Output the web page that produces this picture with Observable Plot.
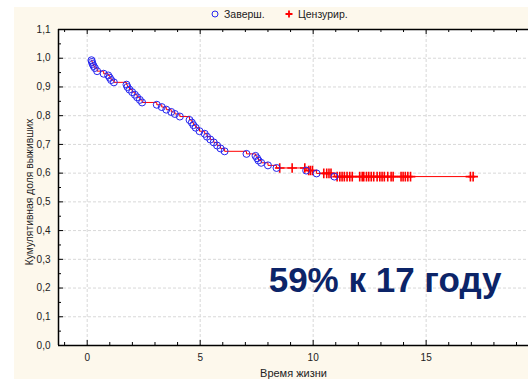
<!DOCTYPE html>
<html><head><meta charset="utf-8">
<script src="https://cdn.jsdelivr.net/npm/d3@7"></script>
<script src="https://cdn.jsdelivr.net/npm/@observablehq/plot@0.6"></script>
<style>
html,body{margin:0;padding:0;background:#fff;}
#wrap{position:absolute;left:14px;top:7px;width:514px;height:372px;background:#fdf8ec;overflow:hidden;font-family:"Liberation Sans",Arial,sans-serif;}
#legend{position:relative;height:15px;font-size:10.5px;color:#222;}
.item{position:absolute;top:0;height:15px;line-height:15px;white-space:nowrap;}
.item svg{vertical-align:middle;margin-right:5px;position:relative;top:-1px;}
#chart svg{display:block;}
#ylabel{position:absolute;left:16px;top:185px;transform:translate(-50%,-50%) rotate(-90deg);white-space:nowrap;font-size:10.3px;color:#222;line-height:12px;}
</style></head>
<body>
<div id="wrap">
  <div id="legend"></div>
  <div id="chart"></div>
  <div id="ylabel"></div>
</div>
<script>
// Kaplan–Meier: completed (events)
const eventTime = [0.19,0.21,0.24,0.28,0.34,0.44,0.73,0.93,1.00,1.06,1.18,1.74,1.78,1.87,1.99,2.11,2.21,2.33,2.43,3.08,3.30,3.50,3.72,3.88,4.10,4.53,4.63,4.70,4.80,4.97,5.20,5.30,5.45,5.60,5.75,5.90,6.08,7.05,7.45,7.52,7.58,7.70,8.00,8.38,9.69,10.15,10.94];
const eventSurv = [0.993,0.987,0.980,0.973,0.966,0.955,0.946,0.940,0.932,0.924,0.916,0.908,0.900,0.891,0.882,0.873,0.864,0.855,0.846,0.838,0.830,0.821,0.813,0.806,0.797,0.785,0.776,0.767,0.758,0.746,0.737,0.727,0.717,0.707,0.696,0.686,0.676,0.667,0.660,0.652,0.644,0.636,0.627,0.618,0.609,0.599,0.588];
// censored
const censorTime = [8.52,9.07,9.63,9.80,9.88,9.97,10.47,10.60,10.70,10.79,11.06,11.18,11.28,11.38,11.50,11.62,11.73,12.06,12.17,12.24,12.36,12.46,12.57,12.68,12.83,12.95,13.05,13.15,13.30,13.45,13.54,13.89,13.98,14.08,14.19,14.31,16.96,17.08];
const censorSurv = [0.618,0.618,0.618,0.609,0.609,0.609,0.599,0.599,0.599,0.599,0.588,0.588,0.588,0.588,0.588,0.588,0.588,0.588,0.588,0.588,0.588,0.588,0.588,0.588,0.588,0.588,0.588,0.588,0.588,0.588,0.588,0.588,0.588,0.588,0.588,0.588,0.588,0.588];

const xDomain = [-1.27, 19.53];
const yDomain = [0, 1.1];
const xTicksMajor = [0,5,10,15];
const xTicksMinor = [-1,1,2,3,4,6,7,8,9,11,12,13,14,16,17,18,19];
const yTicksMajor = [0,0.1,0.2,0.3,0.4,0.5,0.6,0.7,0.8,0.9,1.0,1.1];
const yTicksMinor = [0.05,0.15,0.25,0.35,0.45,0.55,0.65,0.75,0.85,0.95,1.05];
const legendLabels = ["Заверш.", "Цензурир."];
const xLabel = "Время жизни";
const yLabel = "Кумулятивная доля выживших";
const note = "59% к 17 году";

const events = eventTime.map((t,i)=>({t, s:eventSurv[i]}));
const censors = censorTime.map((t,i)=>({t, s:censorSurv[i]}));
const curve = [...events, ...censors].sort((a,b)=>a.t-b.t);

const blue = "#2626f0", red = "#ff0000";

// legend
const lg = document.getElementById("legend");
lg.innerHTML = `
<span class="item" style="left:197px"><svg width="8" height="8"><circle cx="4" cy="4" r="3" fill="none" stroke="${blue}" stroke-width="1"/></svg>${legendLabels[0]}</span>
<span class="item" style="left:271px"><svg width="8" height="8"><path d="M4,0.5V7.5M0.5,4H7.5" stroke="${red}" stroke-width="1.8"/></svg>${legendLabels[1]}</span>`;
document.getElementById("ylabel").textContent = yLabel;

const W = 514, H = 357, mL = 44, mR = 0, mT = 7, mB = 34;
const pw = W - mL - mR, ph = H - mT - mB;
const fmt = d => d.toFixed(1).replace(".", ",");
const ff = "'Liberation Sans', Arial, sans-serif";

const chart = Plot.plot({
  width: W, height: H,
  marginLeft: mL, marginRight: mR, marginTop: mT, marginBottom: mB,
  style: {background: "transparent", fontFamily: ff, fontSize: "10px", color: "#222"},
  x: {domain: xDomain},
  y: {domain: yDomain},
  marks: [
    Plot.frame({fill: "white", stroke: null}),
    Plot.gridX(xTicksMajor, {stroke: "#d8d8d8", strokeOpacity: 1, strokeDasharray: "3,2"}),
    Plot.gridY(yTicksMajor.slice(1, -1), {stroke: "#d8d8d8", strokeOpacity: 1, strokeDasharray: "3,2"}),
    // inward ticks bottom / top
    Plot.tickX(xTicksMajor, {x: d => d, insetTop: ph - 5, stroke: "black"}),
    Plot.tickX(xTicksMinor, {x: d => d, insetTop: ph - 3, stroke: "black"}),
    Plot.tickX(xTicksMajor, {x: d => d, insetBottom: ph - 5, stroke: "black"}),
    Plot.tickX(xTicksMinor, {x: d => d, insetBottom: ph - 3, stroke: "black"}),
    // inward ticks left
    Plot.tickY(yTicksMajor, {y: d => d, insetRight: pw - 5, stroke: "black"}),
    Plot.tickY(yTicksMinor, {y: d => d, insetRight: pw - 3, stroke: "black"}),
    Plot.axisX(xTicksMajor, {tickSize: 0, tickPadding: 8, label: null}),
    Plot.text([xLabel], {frameAnchor: "bottom", dy: 31, fontSize: 11, fill: "#222"}),
    Plot.axisY(yTicksMajor, {tickSize: 0, tickPadding: 8, tickFormat: fmt, label: null}),
    // curve
    Plot.line(curve, {x: "t", y: "s", curve: "step-after", stroke: red, strokeWidth: 1}),
    Plot.dot(censors, {x: "t", y: "s", symbol: "plus", r: 3.2, stroke: red, strokeWidth: 1.6}),
    Plot.dot(events, {x: "t", y: "s", r: 3.5, stroke: blue, fill: "none", strokeWidth: 1}),
    // frame lines
    Plot.ruleY([yDomain[0]], {stroke: "black", strokeWidth: 1.5}),
    Plot.ruleY([yDomain[1]], {stroke: "black", strokeWidth: 1.5}),
    Plot.ruleX([xDomain[0]], {stroke: "black", strokeWidth: 1.5}),
    // annotation
    Plot.text([note], {frameAnchor: "bottom-right", textAnchor: "end", dx: -27, dy: -54, fontSize: 35, fontWeight: "bold", fill: "#0c2468", fontFamily: ff})
  ]
});
document.getElementById("chart").appendChild(chart);
</script>
</body></html>
